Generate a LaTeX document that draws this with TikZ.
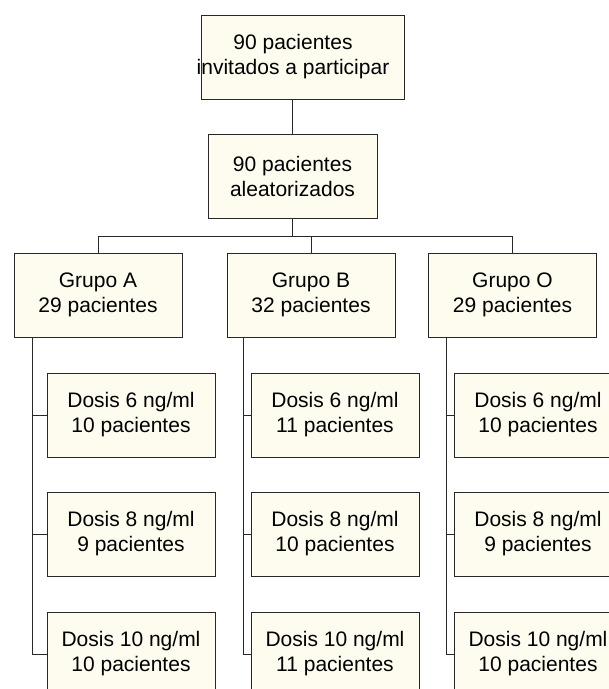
\documentclass[tikz,border=0pt]{standalone}
\usepackage{fontspec}
\setmainfont{Liberation Sans}
\definecolor{boxfill}{RGB}{253,252,238}
\definecolor{edge}{RGB}{40,40,40}
\begin{document}
\begin{tikzpicture}[x=1pt,y=-1pt,
  box/.style={draw=edge,line width=0.9pt,fill=boxfill,minimum width=168pt,minimum height=84pt,inner sep=0pt,
    align=center,font=\fontsize{21}{25}\selectfont},
  txt/.style={inner sep=0pt,align=center,font=\fontsize{21}{25}\selectfont},
  conn/.style={draw=edge,line width=0.9pt}]
\useasboundingbox (0,0) rectangle (609,689);
\clip (0,0) rectangle (609,689);
\fill[white] (0,0) rectangle (609,689);
% top boxes
\node[box,minimum width=203pt] (top) at (302.5,57) {};
\node[txt] (topt) at (293,57) {90 pacientes\\invitados a participar};
\node[box,minimum width=169pt] (sec) at (292.5,176) {90 pacientes\\aleatorizados};
% groups
\node[box] (gA) at (98,295) {Grupo A\\29 pacientes};
\node[box] (gB) at (311,295) {Grupo B\\32 pacientes};
\node[box] (gO) at (512.5,295) {Grupo O\\29 pacientes};
% doses
\node[box] (dA1) at (131,415) {Dosis 6 ng/ml\\10 pacientes};
\node[box] (dA2) at (131,534) {Dosis 8 ng/ml\\9 pacientes};
\node[box] (dA3) at (131,654) {Dosis 10 ng/ml\\10 pacientes};
\node[box] (dB1) at (335,415) {Dosis 6 ng/ml\\11 pacientes};
\node[box] (dB2) at (335,534) {Dosis 8 ng/ml\\10 pacientes};
\node[box] (dB3) at (335,654) {Dosis 10 ng/ml\\11 pacientes};
\node[box] (dO1) at (538,415) {Dosis 6 ng/ml\\10 pacientes};
\node[box] (dO2) at (538,534) {Dosis 8 ng/ml\\9 pacientes};
\node[box] (dO3) at (538,654) {Dosis 10 ng/ml\\10 pacientes};
% connectors
\coordinate (bus) at (0,236);
\coordinate (vA) at (32,0);
\coordinate (vB) at (243,0);
\coordinate (vO) at (446,0);
\draw[conn] (sec.north) -- (sec.north |- top.south);
\draw[conn] (sec.south) -- (sec.south |- bus);
\draw[conn] (gA.north) -- (gA.north |- bus) -- (gO.north |- bus) -- (gO.north);
\draw[conn] (gB.north) -- (gB.north |- bus);
\draw[conn] (vA |- gA.south) -- (vA |- dA3.west) -- (dA3.west);
\draw[conn] (vA |- dA1.west) -- (dA1.west);
\draw[conn] (vA |- dA2.west) -- (dA2.west);
\draw[conn] (vB |- gB.south) -- (vB |- dB3.west) -- (dB3.west);
\draw[conn] (vB |- dB1.west) -- (dB1.west);
\draw[conn] (vB |- dB2.west) -- (dB2.west);
\draw[conn] (vO |- gO.south) -- (vO |- dO3.west) -- (dO3.west);
\draw[conn] (vO |- dO1.west) -- (dO1.west);
\draw[conn] (vO |- dO2.west) -- (dO2.west);
\end{tikzpicture}
\end{document}
